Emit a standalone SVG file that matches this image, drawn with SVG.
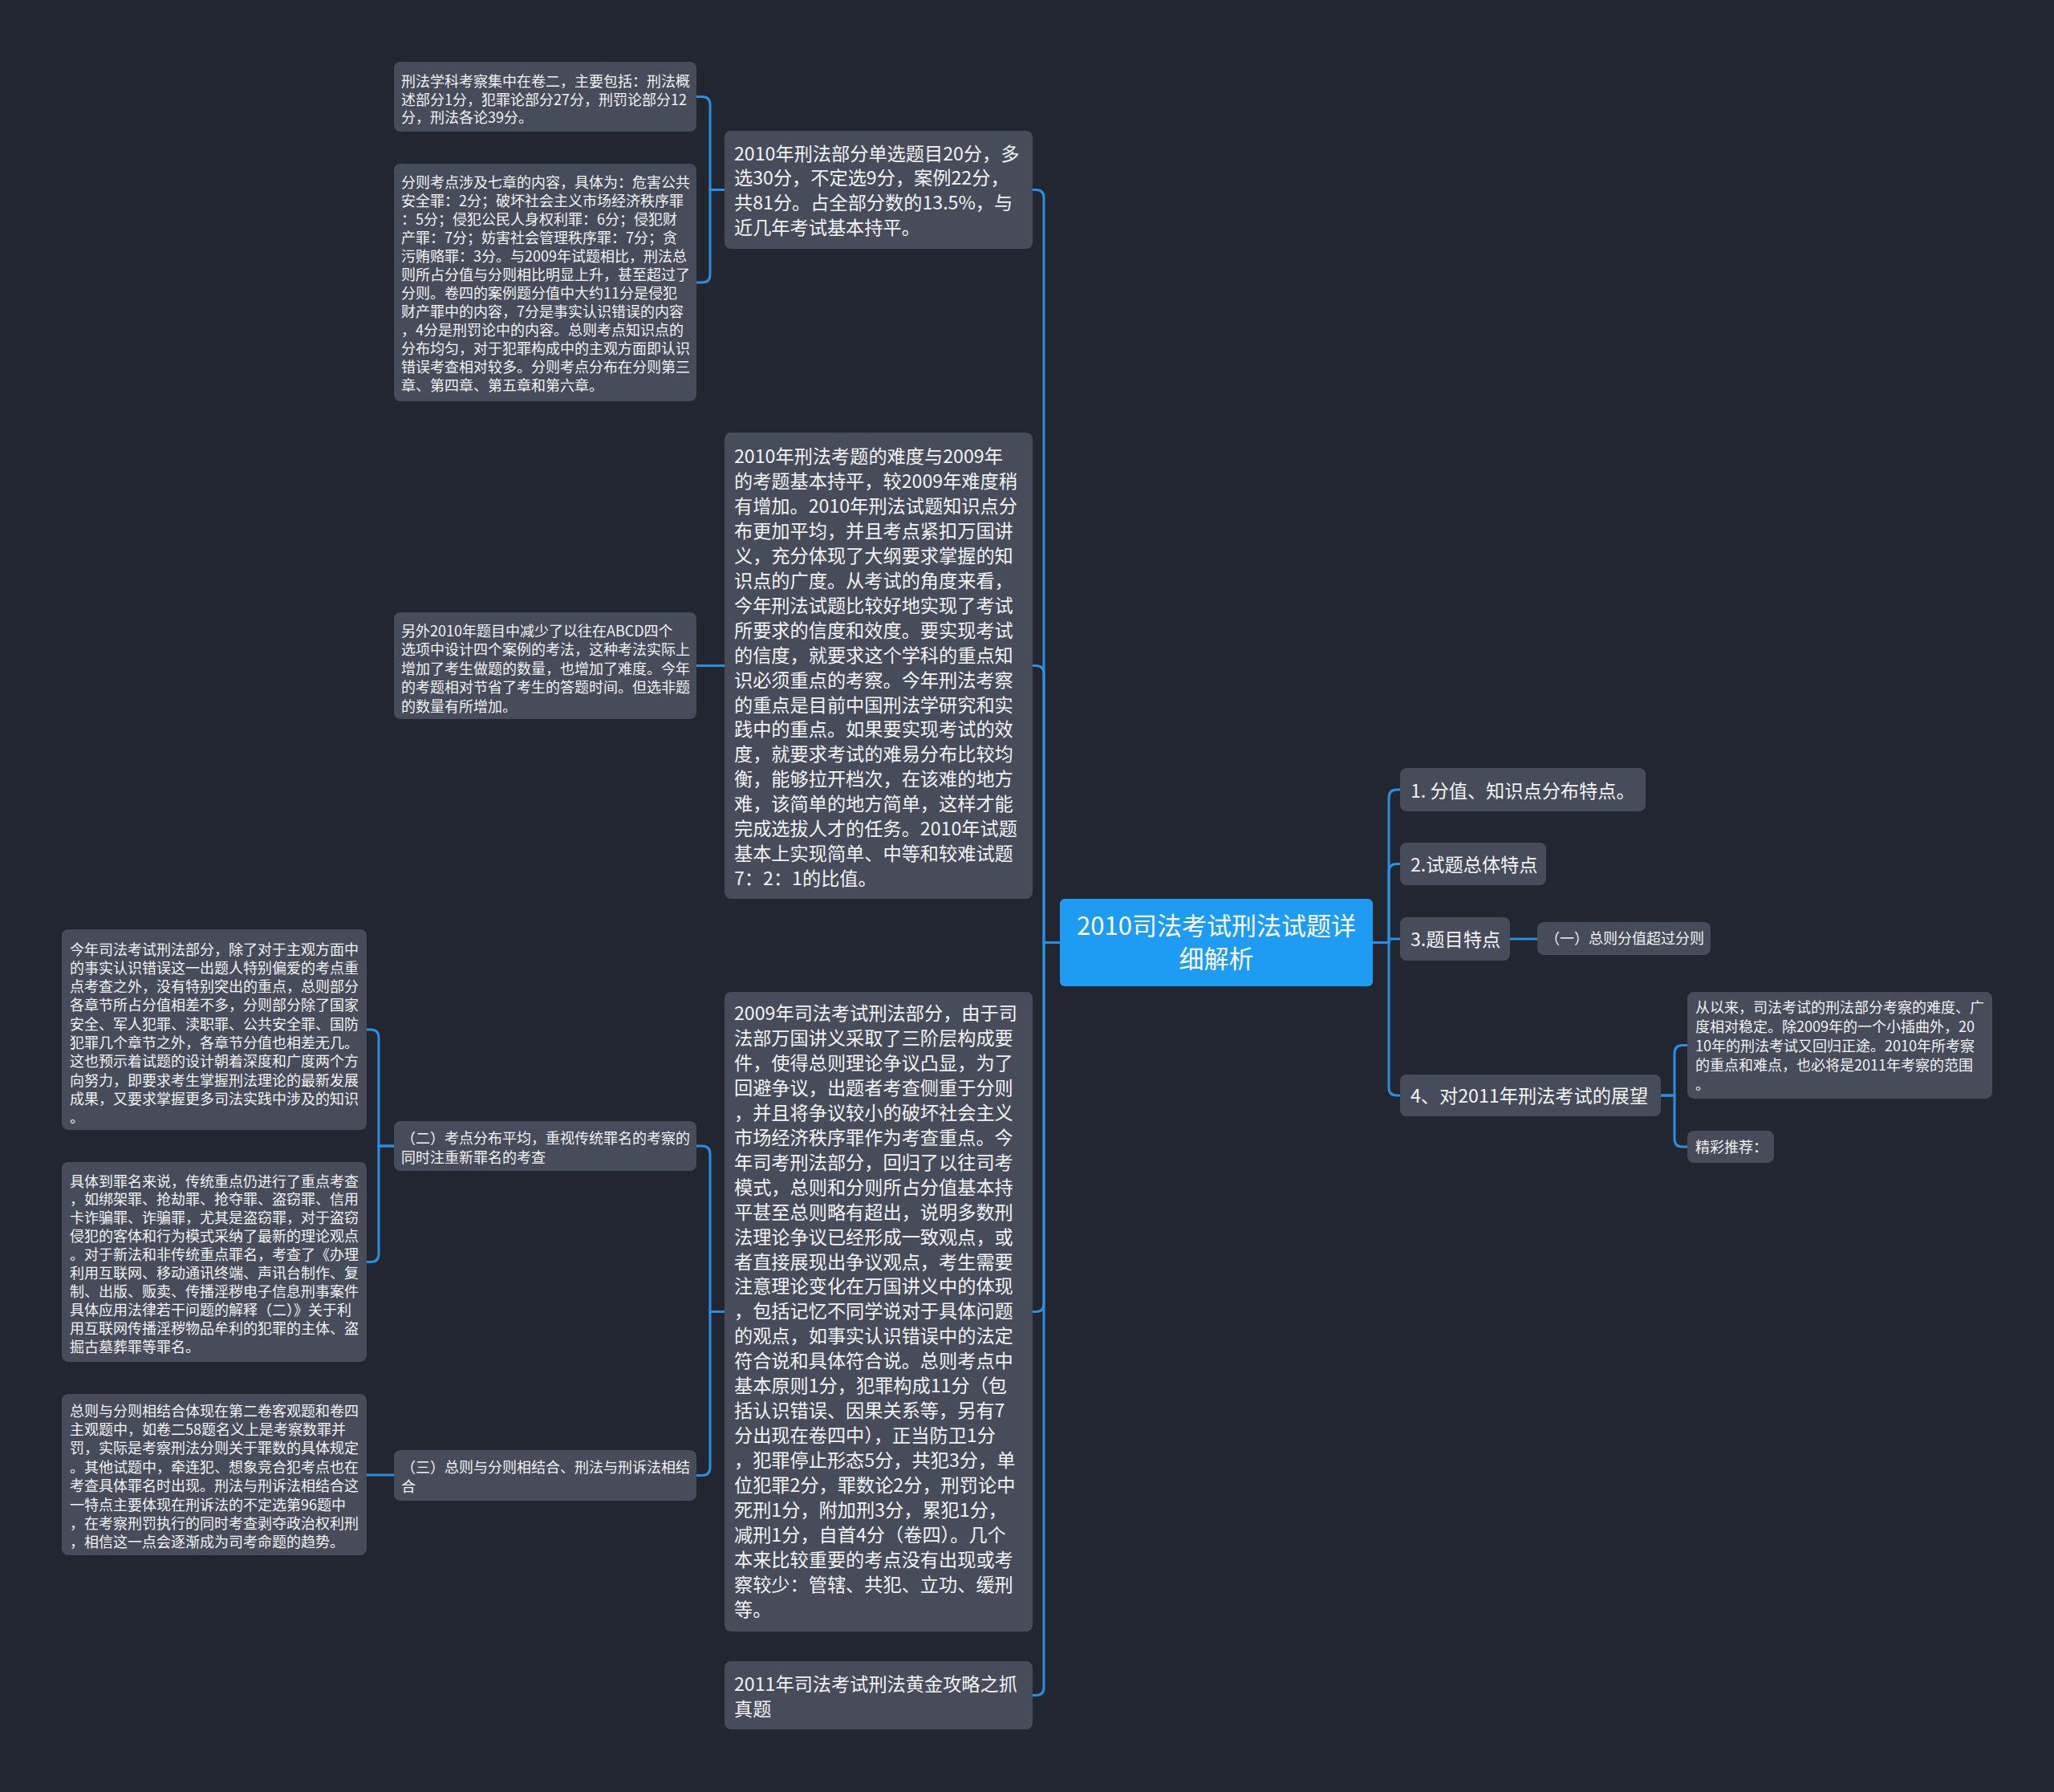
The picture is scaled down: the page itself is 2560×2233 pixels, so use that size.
<svg xmlns="http://www.w3.org/2000/svg" width="2560" height="2233" viewBox="0 0 2560 2233">
<style>
.bg{fill:#222631}
.n{fill:#474c5a}
.c{fill:#1e9bf2}
.t{font-family:"Noto Sans CJK SC","Noto Sans",sans-serif;fill:#f2f2f2}
.t24{font-size:23.2px}
.t18{font-size:18px}
.t31{font-size:31px;fill:#ffffff}
.lk{fill:none;stroke:#2a8fe0;stroke-width:3}
</style>
<rect class="bg" x="0" y="0" width="2560" height="2233"/>
<g id="connectors">
<path class="lk" d="M1321 1174.5 H1301 V246.5 Q1301 236.5 1291 236.5 H1287"/>
<path class="lk" d="M1321 1174.5 H1301 V839.5 Q1301 829.5 1291 829.5 H1287"/>
<path class="lk" d="M1321 1174.5 H1301 V1624.5 Q1301 1634.5 1291 1634.5 H1287"/>
<path class="lk" d="M1321 1174.5 H1301 V2102.5 Q1301 2112.5 1291 2112.5 H1287"/>
<path class="lk" d="M1711 1174.5 H1731 V994 Q1731 984 1741 984 H1745"/>
<path class="lk" d="M1711 1174.5 H1731 V1086.5 Q1731 1076.5 1741 1076.5 H1745"/>
<path class="lk" d="M1711 1174.5 H1731 V1170 H1745"/>
<path class="lk" d="M1711 1174.5 H1731 V1355 Q1731 1365 1741 1365 H1745"/>
<path class="lk" d="M903 236.5 H885 V130.5 Q885 120.5 875 120.5 H868"/>
<path class="lk" d="M903 236.5 H885 V342 Q885 352 875 352 H868"/>
<path class="lk" d="M903 829.5 H868"/>
<path class="lk" d="M903 1634.5 H885 V1438 Q885 1428 875 1428 H868"/>
<path class="lk" d="M903 1634.5 H885 V1828.5 Q885 1838.5 875 1838.5 H868"/>
<path class="lk" d="M491 1428 H472 V1293 Q472 1283 462 1283 H457"/>
<path class="lk" d="M491 1428 H472 V1562.5 Q472 1572.5 462 1572.5 H457"/>
<path class="lk" d="M491 1838 H457"/>
<path class="lk" d="M1882 1170 H1916"/>
<path class="lk" d="M2070 1365 H2087 V1312.5 Q2087 1302.5 2097 1302.5 H2103"/>
<path class="lk" d="M2070 1365 H2087 V1419 Q2087 1429 2097 1429 H2103"/>
</g>
<g id="center">
<rect class="c" x="1321" y="1120" width="390" height="109" rx="6"/>
<text class="t t31" text-anchor="middle" x="1516" y="1165">2010司法考试刑法试题详<tspan x="1516" y="1206">细解析</tspan></text>
</g>
<g id="nodeA">
<rect class="n" x="903" y="163" width="384" height="147" rx="8"/>
<text class="t t24" x="915" y="199.5">2010年刑法部分单选题目20分，多<tspan x="915" dy="30.7">选30分，不定选9分，案例22分，</tspan><tspan x="915" dy="30.7">共81分。占全部分数的13.5%，与</tspan><tspan x="915" dy="30.7">近几年考试基本持平。</tspan></text>
</g>
<g id="nodeB">
<rect class="n" x="903" y="539" width="384" height="581" rx="8"/>
<text class="t t24" x="915" y="577"><tspan x="915">2010年刑法考题的难度与2009年</tspan><tspan x="915" dy="30.95">的考题基本持平，较2009年难度稍</tspan><tspan x="915" dy="30.95">有增加。2010年刑法试题知识点分</tspan><tspan x="915" dy="30.95">布更加平均，并且考点紧扣万国讲</tspan><tspan x="915" dy="30.95">义，充分体现了大纲要求掌握的知</tspan><tspan x="915" dy="30.95">识点的广度。从考试的角度来看，</tspan><tspan x="915" dy="30.95">今年刑法试题比较好地实现了考试</tspan><tspan x="915" dy="30.95">所要求的信度和效度。要实现考试</tspan><tspan x="915" dy="30.95">的信度，就要求这个学科的重点知</tspan><tspan x="915" dy="30.95">识必须重点的考察。今年刑法考察</tspan><tspan x="915" dy="30.95">的重点是目前中国刑法学研究和实</tspan><tspan x="915" dy="30.95">践中的重点。如果要实现考试的效</tspan><tspan x="915" dy="30.95">度，就要求考试的难易分布比较均</tspan><tspan x="915" dy="30.95">衡，能够拉开档次，在该难的地方</tspan><tspan x="915" dy="30.95">难，该简单的地方简单，这样才能</tspan><tspan x="915" dy="30.95">完成选拔人才的任务。2010年试题</tspan><tspan x="915" dy="30.95">基本上实现简单、中等和较难试题</tspan><tspan x="915" dy="30.95">7：2：1的比值。</tspan></text>
</g>
<g id="nodeC">
<rect class="n" x="903" y="1236" width="384" height="797" rx="8"/>
<text class="t t24" x="915" y="1271"><tspan x="915">2009年司法考试刑法部分，由于司</tspan><tspan x="915" dy="30.95">法部万国讲义采取了三阶层构成要</tspan><tspan x="915" dy="30.95">件，使得总则理论争议凸显，为了</tspan><tspan x="915" dy="30.95">回避争议，出题者考查侧重于分则</tspan><tspan x="915" dy="30.95">，并且将争议较小的破坏社会主义</tspan><tspan x="915" dy="30.95">市场经济秩序罪作为考查重点。今</tspan><tspan x="915" dy="30.95">年司考刑法部分，回归了以往司考</tspan><tspan x="915" dy="30.95">模式，总则和分则所占分值基本持</tspan><tspan x="915" dy="30.95">平甚至总则略有超出，说明多数刑</tspan><tspan x="915" dy="30.95">法理论争议已经形成一致观点，或</tspan><tspan x="915" dy="30.95">者直接展现出争议观点，考生需要</tspan><tspan x="915" dy="30.95">注意理论变化在万国讲义中的体现</tspan><tspan x="915" dy="30.95">，包括记忆不同学说对于具体问题</tspan><tspan x="915" dy="30.95">的观点，如事实认识错误中的法定</tspan><tspan x="915" dy="30.95">符合说和具体符合说。总则考点中</tspan><tspan x="915" dy="30.95">基本原则1分，犯罪构成11分（包</tspan><tspan x="915" dy="30.95">括认识错误、因果关系等，另有7</tspan><tspan x="915" dy="30.95">分出现在卷四中），正当防卫1分</tspan><tspan x="915" dy="30.95">，犯罪停止形态5分，共犯3分，单</tspan><tspan x="915" dy="30.95">位犯罪2分，罪数论2分，刑罚论中</tspan><tspan x="915" dy="30.95">死刑1分，附加刑3分，累犯1分，</tspan><tspan x="915" dy="30.95">减刑1分，自首4分（卷四）。几个</tspan><tspan x="915" dy="30.95">本来比较重要的考点没有出现或考</tspan><tspan x="915" dy="30.95">察较少：管辖、共犯、立功、缓刑</tspan><tspan x="915" dy="30.95">等。</tspan></text>
</g>
<g id="nodeD">
<rect class="n" x="903" y="2070" width="384" height="85" rx="8"/>
<text class="t t24" x="915" y="2107">2011年司法考试刑法黄金攻略之抓<tspan x="915" dy="31">真题</tspan></text>
</g>
<g id="nodeS1">
<rect class="n" x="491" y="77" width="377" height="87" rx="8"/>
<text class="t t18" x="500" y="108">刑法学科考察集中在卷二，主要包括：刑法概<tspan x="500" dy="22.7">述部分1分，犯罪论部分27分，刑罚论部分12</tspan><tspan x="500" dy="22.7">分，刑法各论39分。</tspan></text>
</g>
<g id="nodeS2">
<rect class="n" x="491" y="204" width="377" height="296" rx="8"/>
<text class="t t18" x="500" y="233.5"><tspan x="500">分则考点涉及七章的内容，具体为：危害公共</tspan><tspan x="500" dy="23">安全罪：2分；破坏社会主义市场经济秩序罪</tspan><tspan x="500" dy="23">：5分；侵犯公民人身权利罪：6分；侵犯财</tspan><tspan x="500" dy="23">产罪：7分；妨害社会管理秩序罪：7分；贪</tspan><tspan x="500" dy="23">污贿赂罪：3分。与2009年试题相比，刑法总</tspan><tspan x="500" dy="23">则所占分值与分则相比明显上升，甚至超过了</tspan><tspan x="500" dy="23">分则。卷四的案例题分值中大约11分是侵犯</tspan><tspan x="500" dy="23">财产罪中的内容，7分是事实认识错误的内容</tspan><tspan x="500" dy="23">，4分是刑罚论中的内容。总则考点知识点的</tspan><tspan x="500" dy="23">分布均匀，对于犯罪构成中的主观方面即认识</tspan><tspan x="500" dy="23">错误考查相对较多。分则考点分布在分则第三</tspan><tspan x="500" dy="23">章、第四章、第五章和第六章。</tspan></text>
</g>
<g id="nodeS3">
<rect class="n" x="491" y="763" width="377" height="133" rx="8"/>
<text class="t t18" x="500" y="793"><tspan x="500">另外2010年题目中减少了以往在ABCD四个</tspan><tspan x="500" dy="23.4">选项中设计四个案例的考法，这种考法实际上</tspan><tspan x="500" dy="23.4">增加了考生做题的数量，也增加了难度。今年</tspan><tspan x="500" dy="23.4">的考题相对节省了考生的答题时间。但选非题</tspan><tspan x="500" dy="23.4">的数量有所增加。</tspan></text>
</g>
<g id="nodeM1">
<rect class="n" x="491" y="1397" width="377" height="62" rx="8"/>
<text class="t t18" x="500" y="1424.5">（二）考点分布平均，重视传统罪名的考察的<tspan x="500" dy="24">同时注重新罪名的考查</tspan></text>
</g>
<g id="nodeM2">
<rect class="n" x="491" y="1807" width="377" height="63" rx="8"/>
<text class="t t18" x="500" y="1834.5">（三）总则与分则相结合、刑法与刑诉法相结<tspan x="500" dy="24.5">合</tspan></text>
</g>
<g id="nodeL1">
<rect class="n" x="77" y="1158" width="380" height="250" rx="8"/>
<text class="t t18" x="87" y="1189.5"><tspan x="87">今年司法考试刑法部分，除了对于主观方面中</tspan><tspan x="87" dy="23.3">的事实认识错误这一出题人特别偏爱的考点重</tspan><tspan x="87" dy="23.3">点考查之外，没有特别突出的重点，总则部分</tspan><tspan x="87" dy="23.3">各章节所占分值相差不多，分则部分除了国家</tspan><tspan x="87" dy="23.3">安全、军人犯罪、渎职罪、公共安全罪、国防</tspan><tspan x="87" dy="23.3">犯罪几个章节之外，各章节分值也相差无几。</tspan><tspan x="87" dy="23.3">这也预示着试题的设计朝着深度和广度两个方</tspan><tspan x="87" dy="23.3">向努力，即要求考生掌握刑法理论的最新发展</tspan><tspan x="87" dy="23.3">成果，又要求掌握更多司法实践中涉及的知识</tspan><tspan x="87" dy="23.3">。</tspan></text>
</g>
<g id="nodeL2">
<rect class="n" x="77" y="1448" width="380" height="249" rx="8"/>
<text class="t t18" x="87" y="1478.5"><tspan x="87">具体到罪名来说，传统重点仍进行了重点考查</tspan><tspan x="87" dy="22.9">，如绑架罪、抢劫罪、抢夺罪、盗窃罪、信用</tspan><tspan x="87" dy="22.9">卡诈骗罪、诈骗罪，尤其是盗窃罪，对于盗窃</tspan><tspan x="87" dy="22.9">侵犯的客体和行为模式采纳了最新的理论观点</tspan><tspan x="87" dy="22.9">。对于新法和非传统重点罪名，考查了《办理</tspan><tspan x="87" dy="22.9">利用互联网、移动通讯终端、声讯台制作、复</tspan><tspan x="87" dy="22.9">制、出版、贩卖、传播淫秽电子信息刑事案件</tspan><tspan x="87" dy="22.9">具体应用法律若干问题的解释（二）》关于利</tspan><tspan x="87" dy="22.9">用互联网传播淫秽物品牟利的犯罪的主体、盗</tspan><tspan x="87" dy="22.9">掘古墓葬罪等罪名。</tspan></text>
</g>
<g id="nodeL3">
<rect class="n" x="77" y="1737" width="380" height="201" rx="8"/>
<text class="t t18" x="87" y="1764.5"><tspan x="87">总则与分则相结合体现在第二卷客观题和卷四</tspan><tspan x="87" dy="23.4">主观题中，如卷二58题名义上是考察数罪并</tspan><tspan x="87" dy="23.4">罚，实际是考察刑法分则关于罪数的具体规定</tspan><tspan x="87" dy="23.4">。其他试题中，牵连犯、想象竞合犯考点也在</tspan><tspan x="87" dy="23.4">考查具体罪名时出现。刑法与刑诉法相结合这</tspan><tspan x="87" dy="23.4">一特点主要体现在刑诉法的不定选第96题中</tspan><tspan x="87" dy="23.4">，在考察刑罚执行的同时考查剥夺政治权利刑</tspan><tspan x="87" dy="23.4">，相信这一点会逐渐成为司考命题的趋势。</tspan></text>
</g>
<g id="nodeR1">
<rect class="n" x="1745" y="957" width="306" height="54" rx="8"/>
<text class="t t24" x="1758" y="993.5">1. 分值、知识点分布特点。</text>
</g>
<g id="nodeR2">
<rect class="n" x="1745" y="1050" width="182" height="53" rx="8"/>
<text class="t t24" x="1758" y="1085.5">2.试题总体特点</text>
</g>
<g id="nodeR3">
<rect class="n" x="1745" y="1143" width="137" height="54" rx="8"/>
<text class="t t24" x="1758" y="1178.5">3.题目特点</text>
</g>
<g id="nodeR3a">
<rect class="n" x="1916" y="1149" width="216" height="41" rx="8"/>
<text class="t t18" x="1926" y="1176">（一）总则分值超过分则</text>
</g>
<g id="nodeR4">
<rect class="n" x="1745" y="1339" width="325" height="52" rx="8"/>
<text class="t t24" x="1758" y="1373.5">4、对2011年刑法考试的展望</text>
</g>
<g id="nodeR4a">
<rect class="n" x="2103" y="1236" width="380" height="133" rx="8"/>
<text class="t t18" x="2113" y="1262"><tspan x="2113">从以来，司法考试的刑法部分考察的难度、广</tspan><tspan x="2113" dy="24">度相对稳定。除2009年的一个小插曲外，20</tspan><tspan x="2113" dy="24">10年的刑法考试又回归正途。2010年所考察</tspan><tspan x="2113" dy="24">的重点和难点，也必将是2011年考察的范围</tspan><tspan x="2113" dy="24">。</tspan></text>
</g>
<g id="nodeR4b">
<rect class="n" x="2103" y="1409" width="108" height="40" rx="8"/>
<text class="t t18" x="2113" y="1436">精彩推荐：</text>
</g>
</svg>
